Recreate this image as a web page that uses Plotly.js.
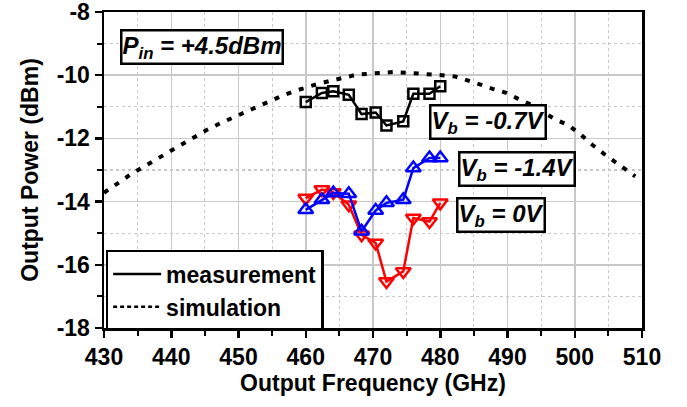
<!DOCTYPE html>
<html>
<head>
<meta charset="utf-8">
<script src="https://cdn.plot.ly/plotly-3.0.1.min.js"></script>
<style>
  html, body { margin: 0; padding: 0; background: #fff; }
  #chart { width: 687px; height: 407px; }
</style>
</head>
<body>
<div id="chart"></div>
<script>
// ---- data ----
const simFreq = [430, 430.5, 434.1, 437.8, 441.5, 445.2, 447.2, 452.7, 454.5, 456.5, 458.2, 461.9, 467.6, 469.9, 473.1, 475.5, 478, 480.3, 482.2, 484.2, 486, 487.8, 489.8, 491.6, 493.5, 497.2, 499, 500.9, 502.6, 504.6, 506.5, 508.3, 509];
const simPower = [-13.72, -13.65, -13.12, -12.66, -12.19, -11.74, -11.53, -10.99, -10.83, -10.65, -10.51, -10.27, -9.98, -9.95, -9.90, -9.93, -9.95, -10.0, -10.04, -10.16, -10.30, -10.43, -10.56, -10.75, -10.93, -11.41, -11.57, -11.88, -12.2, -12.53, -12.83, -13.1, -13.2];

const measFreq = [460, 462.4, 464.1, 466.4, 468.3, 470.4, 472, 474.5, 476, 478.4, 480];
const pwrVbNeg07 = [-10.85, -10.56, -10.51, -10.62, -11.23, -11.18, -11.59, -11.46, -10.59, -10.59, -10.35];
const pwrVbNeg14 = [-14.26, -13.94, -13.73, -13.75, -14.94, -14.28, -14.04, -13.94, -12.94, -12.62, -12.62];
const pwrVb0 = [-13.89, -13.62, -13.71, -14.10, -15.05, -15.31, -16.53, -16.21, -14.52, -14.63, -14.04];

const xTickVals = [430, 440, 450, 460, 470, 480, 490, 500, 510];
const xTickText = ["430", "440", "450", "460", "470", "480", "490", "500", "510"];
const yTickVals = [-18, -16, -14, -12, -10, -8];
const yTickText = ["-18", "-16", "-14", "-12", "-10", "-8"];

const seriesNames = ["V<sub>b</sub> = -0.7V", "V<sub>b</sub> = -1.4V", "V<sub>b</sub> = 0V"];
const inputLabel = "P<sub>in</sub> = +4.5dBm";
const legendNames = ["measurement", "simulation"];

// ---- chart ----
const FONT = "Liberation Sans, Arial, sans-serif";
const bold = (s) => ({ family: FONT, size: s, color: "#000", weight: "bold" });

const traces = [
  {
    x: simFreq, y: simPower, mode: "lines", showlegend: false,
    line: { color: "#000", width: 4, dash: "5px,8px" }, hoverinfo: "skip"
  },
  {
    x: measFreq, y: pwrVb0, mode: "lines+markers", showlegend: false,
    line: { color: "#ff0000", width: 2.5 },
    marker: { symbol: "triangle-down-open", size: 13, color: "#ff0000", line: { width: 2.5, color: "#ff0000" } }
  },
  {
    x: measFreq, y: pwrVbNeg14, mode: "lines+markers", showlegend: false,
    line: { color: "#0000ff", width: 2.5 },
    marker: { symbol: "triangle-up-open", size: 13, color: "#0000ff", line: { width: 2.5, color: "#0000ff" } }
  },
  {
    x: measFreq, y: pwrVbNeg07, mode: "lines+markers", showlegend: false,
    line: { color: "#000", width: 2.5 },
    marker: { symbol: "square-open", size: 10, color: "#000", line: { width: 2.5, color: "#000" } }
  },
  {
    x: [null], y: [null], mode: "lines", name: legendNames[0],
    line: { color: "#000", width: 2.5 }
  },
  {
    x: [null], y: [null], mode: "lines", name: legendNames[1],
    line: { color: "#000", width: 2.5, dash: "4px,3px" }
  }
];

const boxAnn = (text, x, y) => ({
  text: "<b><i>" + text + "</i></b>", x: x, y: y, xref: "x", yref: "y",
  xanchor: "left", yanchor: "top", showarrow: false,
  font: bold(24), bgcolor: "#fff", bordercolor: "#000", borderwidth: 2.5, borderpad: 0
});

const layout = {
  width: 687, height: 407,
  margin: { l: 104, r: 45, t: 12, b: 79 },
  paper_bgcolor: "#fff", plot_bgcolor: "#fff",
  showlegend: true,
  legend: {
    x: 0.003, y: 0.247, xanchor: "left", yanchor: "top",
    bgcolor: "#fff", bordercolor: "#000", borderwidth: 2.5,
    font: bold(23), tracegroupgap: 0, itemwidth: 48
  },
  xaxis: {
    range: [430, 510], tickvals: xTickVals, ticktext: xTickText,
    showline: true, linecolor: "#000", linewidth: 2.5, mirror: true,
    ticks: "outside", ticklen: 7, tickwidth: 2.5, tickcolor: "#000",
    showgrid: true, gridcolor: "#c8c8c8", gridwidth: 1.5, zeroline: false,
    tickfont: bold(23), ticklabeloverflow: "allow",
    minor: { dtick: 5, tick0: 435, ticks: "outside", ticklen: 5, tickwidth: 2, tickcolor: "#000",
             showgrid: true, gridcolor: "#c8c8c8", gridwidth: 1.2, griddash: "dot" },
    title: { text: "Output Frequency (GHz)", font: bold(23), standoff: 6 }
  },
  yaxis: {
    range: [-18, -8], tickvals: yTickVals, ticktext: yTickText,
    showline: true, linecolor: "#000", linewidth: 2.5, mirror: true,
    ticks: "outside", ticklen: 7, tickwidth: 2.5, tickcolor: "#000",
    showgrid: true, gridcolor: "#c8c8c8", gridwidth: 1.5, zeroline: false,
    tickfont: bold(23), ticklabeloverflow: "allow",
    minor: { dtick: 2, tick0: -17, ticks: "outside", ticklen: 5, tickwidth: 2, tickcolor: "#000",
             showgrid: true, gridcolor: "#c8c8c8", gridwidth: 1.2, griddash: "dot" },
    title: { text: "Output Power (dBm)", font: bold(23), standoff: 12 }
  },
  annotations: [
    boxAnn(inputLabel, 432.35, -8.53),
    boxAnn(seriesNames[0], 478.4, -10.90),
    boxAnn(seriesNames[1], 482.7, -12.40),
    boxAnn(seriesNames[2], 482.4, -13.85)
  ]
};

Plotly.newPlot("chart", traces, layout, { displayModeBar: false, staticPlot: true });
</script>
</body>
</html>
